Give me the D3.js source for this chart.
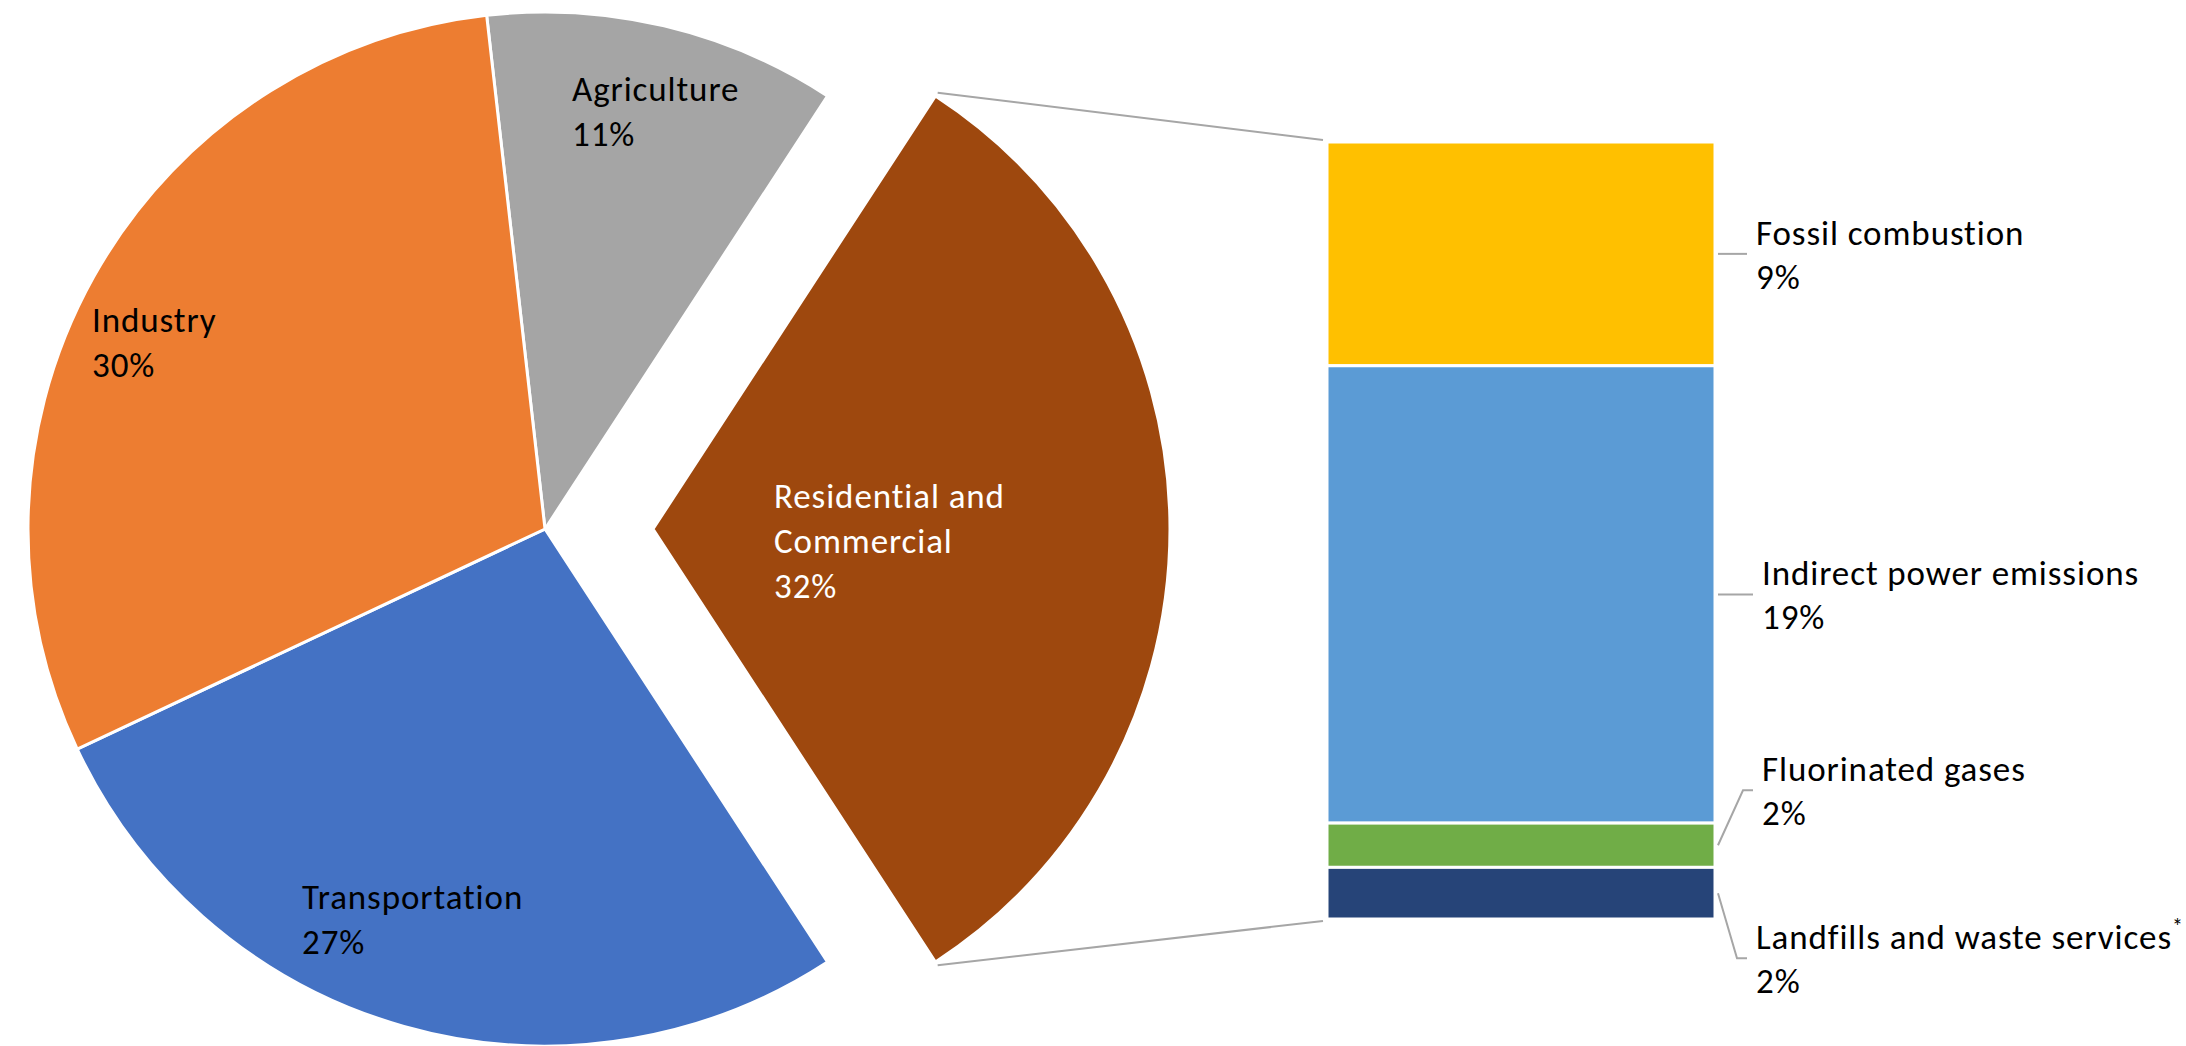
<!DOCTYPE html>
<html>
<head>
<meta charset="utf-8">
<script src="https://cdn.jsdelivr.net/npm/d3@7"></script>
<style>
html, body { margin: 0; padding: 0; background: #fff; }
svg text { font-family: Carlito, Calibri, Lato, sans-serif; font-size: 35px; letter-spacing: 0.9px; font-variant-ligatures: none; }
</style>
</head>
<body>
<svg id="chart"></svg>
<script>
// Main pie: sectors (percent of total)
var sectors = ['Agriculture', 'Residential and Commercial', 'Transportation', 'Industry'];
var sectorShares = [11.0, 31.6, 27.2, 30.2];
var sectorColors = ['#A5A5A5', '#9E480E', '#4472C4', '#ED7D31'];

// Breakdown of Residential and Commercial (bar of pie)
var subSources = ['Fossil combustion', 'Indirect power emissions', 'Fluorinated gases', 'Landfills and waste services'];
var subShares = [9.1, 18.6, 1.8, 2.1];
var subColors = ['#FFC000', '#5B9BD5', '#70AD47', '#264478'];

var width = 2186, height = 1046;
var cx = 545, cy = 529, radius = 517, explode = 108;
var barLeft = 1327, barRight = 1715, barTop = 142, barBottom = 919;

// where the labels sit, relative to the slice / segment
var pieLabelPos = {
    'Agriculture': [572, 101],
    'Industry': [92, 332],
    'Transportation': [302, 909],
    'Residential and Commercial': [774, 508]
};
var subLabelShift = [0, 0, -55, 65];
var subLabelX = [1747, 1753, 1753, 1747];

var svg = d3.select('#chart')
    .attr('width', width)
    .attr('height', height);

var total = d3.sum(sectorShares);
var exploded = 'Residential and Commercial';
var expIdx = sectors.indexOf(exploded);

// rotate so the exploded slice is centered at 3 o'clock
var before = d3.sum(sectorShares.slice(0, expIdx));
var startAngle = Math.PI / 2 - (before + sectorShares[expIdx] / 2) / total * 2 * Math.PI;

var pie = d3.pie()
    .sort(null)
    .value(function (d) { return d.value; })
    .startAngle(startAngle)
    .endAngle(startAngle + 2 * Math.PI);

var pieData = pie(sectors.map(function (s, i) {
    return { name: s, value: sectorShares[i], color: sectorColors[i] };
}));

var arc = d3.arc().innerRadius(0).outerRadius(radius);

var pieG = svg.append('g');

pieG.selectAll('path')
    .data(pieData)
    .enter().append('path')
    .attr('d', arc)
    .attr('fill', function (d) { return d.data.color; })
    .attr('stroke', '#fff')
    .attr('stroke-width', 3)
    .attr('transform', function (d) {
        var off = d.data.name == exploded ? explode : 0;
        var mid = (d.startAngle + d.endAngle) / 2;
        return 'translate(' + (cx + off * Math.sin(mid)) + ',' + (cy - off * Math.cos(mid)) + ')';
    });

// pie labels
pieData.forEach(function (d) {
    var pos = pieLabelPos[d.data.name];
    var lines = d.data.name == exploded ? ['Residential and', 'Commercial'] : [d.data.name];
    lines.push(Math.round(d.data.value / total * 100) + '%');
    var t = pieG.append('text')
        .attr('fill', d.data.name == exploded ? '#fff' : '#000');
    lines.forEach(function (l, i) {
        t.append('tspan')
            .attr('x', pos[0])
            .attr('y', pos[1] + i * 45)
            .text(l);
    });
});

// bar of the exploded slice
var subTotal = d3.sum(subShares);
var y = d3.scaleLinear().domain([0, subTotal]).range([barTop, barBottom]);
var cum = d3.cumsum(subShares);
var subData = subSources.map(function (s, i) {
    return { name: s, value: subShares[i], color: subColors[i], y0: cum[i] - subShares[i], y1: cum[i] };
});

var barG = svg.append('g');

barG.selectAll('rect')
    .data(subData)
    .enter().append('rect')
    .attr('x', barLeft)
    .attr('width', barRight - barLeft)
    .attr('y', function (d) { return y(d.y0); })
    .attr('height', function (d) { return y(d.y1) - y(d.y0); })
    .attr('fill', function (d) { return d.color; })
    .attr('stroke', '#fff')
    .attr('stroke-width', 3);

// connector lines from exploded slice to bar
var expSlice = pieData[expIdx];
var expMid = (expSlice.startAngle + expSlice.endAngle) / 2;
var ex = cx + explode * Math.sin(expMid), ey = cy - explode * Math.cos(expMid);
var corners = [expSlice.startAngle, expSlice.endAngle].map(function (a) {
    return [ex + (radius + 4) * Math.sin(a), ey - (radius + 4) * Math.cos(a)];
});
var barEnds = [[barLeft - 4, y(0) - 2], [barLeft - 4, y(subTotal) + 2]];

svg.append('g').selectAll('line')
    .data([0, 1])
    .enter().append('line')
    .attr('x1', function (i) { return corners[i][0]; })
    .attr('y1', function (i) { return corners[i][1]; })
    .attr('x2', function (i) { return barEnds[i][0]; })
    .attr('y2', function (i) { return barEnds[i][1]; })
    .attr('stroke', '#A6A6A6')
    .attr('stroke-width', 2);

// bar labels with leader lines
subData.forEach(function (d, i) {
    var ym = y((d.y0 + d.y1) / 2);
    var ly = ym + subLabelShift[i];
    var lx = subLabelX[i];
    var pts = [[barRight + 3, ym]];
    if (subLabelShift[i] != 0) pts.push([lx - 10, ly]);
    pts.push([lx, ly]);
    barG.append('path')
        .attr('d', d3.line()(pts))
        .attr('fill', 'none')
        .attr('stroke', '#A6A6A6')
        .attr('stroke-width', 2);

    var t = barG.append('text').attr('fill', '#000');
    t.append('tspan')
        .attr('x', lx + 9)
        .attr('y', ly - 9)
        .text(d.name);
    if (i == 3) {
        t.append('tspan')
            .attr('dy', -15)
            .style('font-size', '22px')
            .text('*');
    }
    t.append('tspan')
        .attr('x', lx + 9)
        .attr('y', ly + 35)
        .text(Math.round(d.value) + '%');
});
</script>
</body>
</html>
